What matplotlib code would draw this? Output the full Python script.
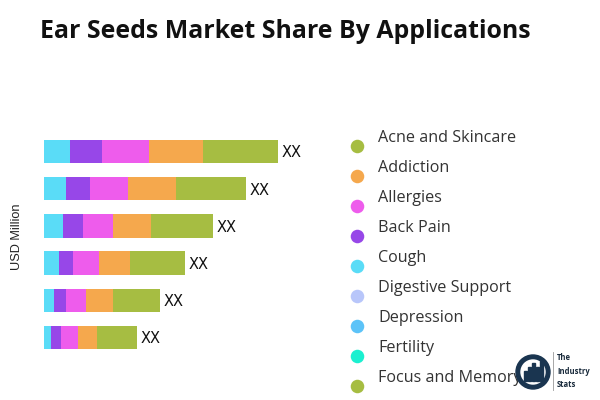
import matplotlib
matplotlib.use("Agg")
import matplotlib.pyplot as plt
from matplotlib.patches import Ellipse, Rectangle

# ---- data ----
rows = ["r1", "r2", "r3", "r4", "r5", "r6"]
cough = [25.5, 21.5, 18.5, 14.5, 9.5, 7.0]
back_pain = [32.5, 24.5, 20.0, 14.5, 12.0, 9.5]
allergies = [46.5, 37.5, 30.5, 25.5, 20.5, 17.0]
addiction = [54.5, 48.5, 37.5, 31.0, 26.5, 19.5]
acne = [74.5, 69.5, 62.5, 55.5, 47.5, 39.5]
bar_labels = ["XX"] * 6

legend_labels = ["Acne and Skincare", "Addiction", "Allergies", "Back Pain", "Cough",
                 "Digestive Support", "Depression", "Fertility", "Focus and Memory"]
legend_colors = ["#A6BD42", "#F5A84D", "#EE5CEC", "#9747E8", "#5ADCF7",
                 "#B8C6FA", "#5CC3F8", "#1BF0D0", "#A6BD42"]

series = [cough, back_pain, allergies, addiction, acne]
series_colors = ["#5ADCF7", "#9747E8", "#EE5CEC", "#F5A84D", "#A6BD42"]

fig = plt.figure(figsize=(6, 4), dpi=100)
W, H = 600, 400

def pos(x0, y0, x1, y1):
    return [x0 / W, 1 - y1 / H, (x1 - x0) / W, (y1 - y0) / H]

# main bars
ax = fig.add_axes(pos(44, 130, 344, 360))
ax.set_xlim(0, 300)
ax.set_ylim(5.605, -0.578)
ypos = list(range(len(rows)))
left = [0.0] * len(rows)
for vals, col in zip(series, series_colors):
    ax.barh(ypos, vals, left=left, height=0.63, color=col, linewidth=0)
    left = [l + v for l, v in zip(left, vals)]
for y, tot, lab in zip(ypos, left, bar_labels):
    ax.text(tot + 4, y + 0.04, lab, va="center", ha="left", fontsize=10.5,
            family="DejaVu Sans", color="#111111")
ax.axis("off")

fig.text(17 / W, 1 - 237 / H, "USD Million", rotation=90, va="center", ha="center",
         fontsize=9.2, family="Liberation Sans", color="#222222")

# title
fig.text(40 / W, 1 - 32 / H, "Ear Seeds Market Share By Applications", fontsize=17.9,
         fontweight="bold", family="Open Sans", va="center", ha="left", color="#111111")

# legend
lax = fig.add_axes(pos(345, 123, 600, 393))
lax.set_xlim(0, 255)
n = len(legend_labels)
lax.set_ylim(n - 0.5, -0.5)
for i, (lab, col) in enumerate(zip(legend_labels, legend_colors)):
    lax.scatter([12], [i + 0.27], s=95, color=col, linewidths=0)
    lax.text(33, i, lab, va="center", ha="left", fontsize=11.6, family="Open Sans",
             color="#333333")
lax.axis("off")

# logo
fig.text(557 / W, 1 - 371 / H, "The\nIndustry\nStats", fontsize=5.5, fontweight="bold",
         family="Open Sans", va="center", ha="left", color="#1a2b3c", linespacing=1.6)
fig.add_artist(plt.Line2D([553 / W, 553 / W], [1 - 390 / H, 1 - 352 / H], color="#999999", lw=0.6))
cx, cy = 533, 372
fig.add_artist(Ellipse((cx / W, 1 - cy / H), 34 / W, 34 / H, transform=fig.transFigure,
                       color="#1a3550"))
fig.add_artist(Ellipse((cx / W, 1 - cy / H), 24 / W, 24 / H, transform=fig.transFigure,
                       color="white"))
for bx, bh in [(-8, 10), (-4, 14), (0, 18), (4, 14), (8, 20)]:
    fig.add_artist(Rectangle(((cx + bx - 1.5) / W, 1 - (cy + 9) / H), 3 / W, bh / H,
                             transform=fig.transFigure, color="#1a3550"))

fig.savefig("out.png", dpi=100)
